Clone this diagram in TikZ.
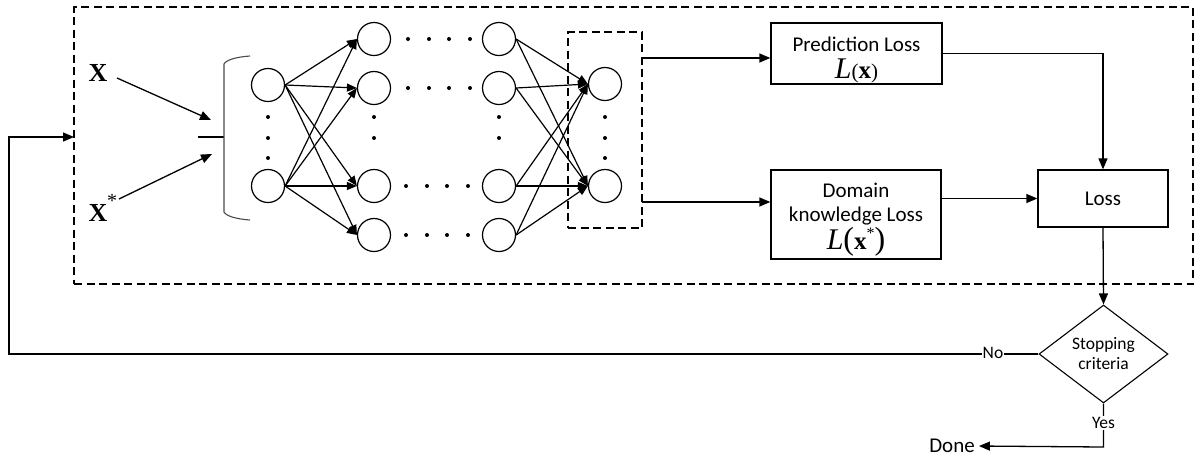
\documentclass[tikz,border=0pt]{standalone}
\usepackage{fontspec}
\setmainfont{Carlito}
\newfontfamily\tnr{Liberation Serif}
\usetikzlibrary{arrows.meta,shapes.geometric,calc}
\tikzset{
  arr/.style={-{Triangle[length=11pt,width=9pt]}, line width=1.3pt},
  nnarr/.style={-{Triangle[length=10pt,width=8pt]}, line width=1.2pt},
  neuron/.style={circle, draw, line width=1.2pt, minimum size=33pt, inner sep=0pt},
  frame/.style={draw, dash pattern=on 8pt off 4.5pt, line width=1.1pt},
  lbox/.style={draw, line width=1.3pt, inner sep=0pt, align=center, font=\fontsize{21}{25}\selectfont},
  dotn/.style={circle, fill=black, inner sep=0pt, minimum size=4pt},
  lbl/.style={font=\fontsize{17.5}{20}\selectfont, inner sep=1pt},
  xin/.style={font=\tnr\bfseries\fontsize{26}{28}\selectfont, inner sep=1pt},
}
\begin{document}
\begin{tikzpicture}[x=1pt,y=-1pt]
\useasboundingbox (0,0) rectangle (1197,459);
% frames
\node[frame, minimum width=1119pt, minimum height=277pt, inner sep=0pt] (outer) at (633.5,145.5) {};
\node[frame, minimum width=74pt, minimum height=196pt, inner sep=0pt] (ofr) at (605,130) {};
% inputs
\node[xin] (X) at (98,73) {X};
\node[xin] (Xs) at (98,213) {X};
\node[inner sep=0pt, font=\tnr\fontsize{20}{20}\selectfont] (star) at (112,201) {*};
\coordinate (j1) at (211,120);
\coordinate (j2) at (212,154);
\coordinate (ja) at (198,137);
\coordinate (jb) at (224,137);
\coordinate (s1) at (117,78);
\coordinate (s2) at (119,199);
\draw[arr] (s1) -- (j1);
\draw[arr] (s2) -- (j2);
\draw[line width=1.2pt] (ja) -- (jb);
\draw[line width=1.1pt, black!70] (250,56) .. controls (236,57) and (226,60) .. (224,64) -- (224,212) .. controls (226,216) and (236,219) .. (250,220);
% neurons
\node[neuron] (i1) at (268,85) {};
\node[neuron] (i2) at (268,186) {};
\foreach \y/\n in {39/1,88/2,186/3,235/4}{
  \node[neuron] (a\n) at (374,\y) {};
  \node[neuron] (b\n) at (499,\y) {};
}
\node[neuron] (o1) at (605,84) {};
\node[neuron] (o2) at (605,186) {};
% dots
\foreach \y in {117,138,158}{ \node[dotn] at (268,\y) {}; \node[dotn] at (605,\y) {}; }
\foreach \y in {117,138}{ \node[dotn] at (374,\y) {}; \node[dotn] at (499,\y) {}; }
\foreach \x in {408,429,449,470}{ \node[dotn] at (\x,39) {}; \node[dotn] at (\x,88) {}; }
\foreach \x in {406,427,447,468}{ \node[dotn] at (\x,186) {}; \node[dotn] at (\x,235) {}; }
% connections
\foreach \s in {i1,i2}{ \foreach \t in {a1,a2,a3,a4}{ \draw[nnarr] (\s.east) -- (\t.west); } }
\foreach \s in {b1,b2,b3,b4}{ \foreach \t in {o1,o2}{ \draw[nnarr] (\s.east) -- (\t.west); } }
% loss boxes
\node[lbox, minimum width=171pt, minimum height=61pt] (pred) at (856.5,53.5) {};
\node[font=\fontsize{21}{25}\selectfont, inner sep=0pt] (predt) at (856.5,44) {Prediction Loss};
\node[inner sep=0pt] (predl) at (856.5,71) {\tnr\fontsize{30}{30}\selectfont\itshape L\upshape\fontsize{21}{22}\selectfont(\bfseries\fontsize{25}{26}\selectfont x\mdseries\fontsize{21}{22}\selectfont)};
\node[lbox, minimum width=170pt, minimum height=89pt] (dom) at (856,214.5) {};
\node[font=\fontsize{21}{25}\selectfont, inner sep=0pt, align=center] (domt) at (856,204) {Domain\\[-1pt]knowledge Loss};
\node[inner sep=0pt] (doml) at (856,242) {\tnr\fontsize{30}{30}\selectfont\itshape L\upshape\fontsize{32}{32}\selectfont(\bfseries\fontsize{25}{26}\selectfont x\raisebox{0.45em}{\mdseries\fontsize{16}{16}\selectfont *}\mdseries\fontsize{32}{32}\selectfont)};
\node[lbox, minimum width=130pt, minimum height=57pt] (loss) at (1103,198.5) {Loss};
\node[diamond, draw, line width=1.1pt, aspect=1.3, inner sep=0pt, minimum width=129pt, minimum height=98pt, align=center, font=\fontsize{17.5}{20}\selectfont] (stop) at (1103.5,354) {Stopping\\criteria};
% arrows
\coordinate (p1) at (642,58);
\coordinate (p2) at (642,202);
\draw[arr] (p1) -- (p1 -| pred.west);
\draw[arr] (p2) -- (p2 -| dom.west);
\draw[arr] (pred.east) -| (loss.north);
\draw[arr] (dom.east |- loss.west) -- (loss.west);
\draw[arr] (loss.south) -- (stop.north);
% feedback
\coordinate (c1) at (9,354);
\coordinate (c2) at (9,137);
\coordinate (fin) at (74,137);
\draw[arr] (stop.west) -- (c1) -- (c2) -- (fin);
\node[lbl, fill=white] (no) at (993,353) {No};
% done
\coordinate (d1) at (1103.5,447);
\node[font=\fontsize{21}{25}\selectfont, inner sep=1pt] (done) at (952,446) {Done};
\draw[arr, shorten >=3pt] (stop.south) -- (d1) -- (done.east);
\node[lbl, fill=white] (yes) at (1103.5,423) {Yes};
\end{tikzpicture}
\end{document}
